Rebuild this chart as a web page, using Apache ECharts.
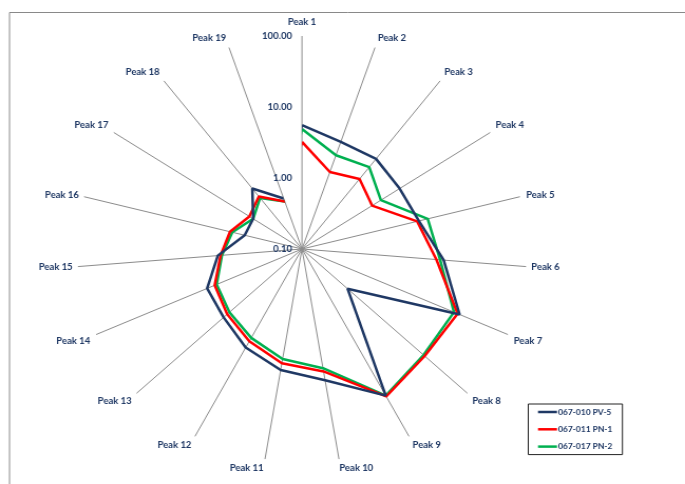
<!DOCTYPE html>
<html>
<head>
<meta charset="utf-8">
<script src="https://cdn.jsdelivr.net/npm/echarts@6/dist/echarts.min.js"></script>
<style>
html,body{margin:0;padding:0;background:#fff;overflow:hidden;width:685px;height:484px;}
#chart{width:649px;height:484px;transform:scaleX(1.0555);transform-origin:0 0;}
</style>
</head>
<body>
<div id="chart"></div>
<script>
const categories = ['Peak 1','Peak 2','Peak 3','Peak 4','Peak 5','Peak 6','Peak 7','Peak 8','Peak 9','Peak 10',
  'Peak 11','Peak 12','Peak 13','Peak 14','Peak 15','Peak 16','Peak 17','Peak 18','Peak 19'];
const seriesNames = ['067-010 PV-5','067-011 PN-1','067-017 PN-2'];
const pv5 = [5.57, 3.94, 4.06, 3.6, 4.06, 7.9, 19.8, 0.67, 22.3, 7.5, 5.35, 3.79, 2.64, 2.41, 1.34, 0.615, 0.60, 1.2, 0.565];
const pn1 = [3.23, 1.40, 1.78, 1.31, 3.85, 6.3, 18.5, 16.8, 23.0, 5.6, 4.29, 3.0, 2.27, 1.87, 1.23, 0.98, 0.69, 0.865, 0.51];
const pn2 = [4.9, 2.49, 2.89, 1.81, 5.38, 7.07, 16.4, 16.0, 22.3, 5.03, 3.72, 2.65, 2.07, 1.75, 1.18, 0.91, 0.60, 0.815, 0.51];
const radiusTicks = [0.1, 1, 10, 100];

// label padding (style only): [top, right, bottom, left]
const labelPadding = [
  [0,0,4,0],[0,0,0,1],[0,0,0,1],[0,0,0,1],[0,0,0,1],[0,0,0,0],[0,0,0,1],[0,0,0,1],[0,0,0,1],[0,0,0,31],
  [0,33,0,0],[0,1,0,0],[0,1,0,0],[0,1,0,0],[0,0,0,0],[0,0,0,0],[0,1,0,0],[0,1,0,0],[0,1,0,0]
];

const colors = ['#1F3864', '#FF0000', '#00B050'];
const textColor = '#1F3864';
const font = 'Lato, "Open Sans", sans-serif';

function closedLoop(vals) {
  const pts = vals.map((v, i) => [v, i]);
  pts.push([vals[0], 0]);
  return pts;
}

const chart = echarts.init(document.getElementById('chart'), null, {renderer: 'canvas'});
chart.setOption({
  animation: false,
  backgroundColor: '#fff',
  graphic: [{
    type: 'rect',
    shape: {x: 9, y: 12.5, width: 720, height: 520},
    style: {fill: 'none', stroke: '#898989', lineWidth: 1},
    silent: true
  }],
  polar: {center: [286.1, 249], radius: 213},
  angleAxis: {
    type: 'category',
    data: categories.map((c, i) => ({value: c, textStyle: {padding: labelPadding[i]}})),
    startAngle: 90,
    clockwise: true,
    boundaryGap: false,
    axisLine: {show: false},
    axisTick: {show: false},
    splitLine: {show: true, lineStyle: {color: '#8c8c8c', width: 1}},
    axisLabel: {show: true, margin: 5, color: textColor, fontWeight: 'bold', fontSize: 9, fontFamily: font}
  },
  radiusAxis: {
    type: 'log',
    logBase: 10,
    min: radiusTicks[0],
    max: radiusTicks[radiusTicks.length - 1],
    axisLine: {show: false},
    axisTick: {show: false},
    splitLine: {show: false},
    axisLabel: {
      show: true, margin: 9.5, color: textColor, fontWeight: 'bold', fontSize: 9, fontFamily: font,
      formatter: v => Number(v).toFixed(2)
    },
    z: 10
  },
  legend: {
    orient: 'vertical',
    left: 500.5,
    top: 404,
    data: seriesNames,
    icon: 'rect',
    itemWidth: 18,
    itemHeight: 2.5,
    itemGap: 7.3,
    padding: [3, 9.5, 3, 9.2],
    borderColor: '#222',
    borderWidth: 1,
    borderRadius: 0,
    textStyle: {color: textColor, fontWeight: 'bold', fontSize: 8, fontFamily: font, lineHeight: 10, padding: [0, 0, 0, -4]}
  },
  series: [pv5, pn1, pn2].map((vals, i) => ({
    name: seriesNames[i],
    type: 'line',
    coordinateSystem: 'polar',
    data: closedLoop(vals),
    symbol: 'none',
    lineStyle: {color: colors[i], width: 2.5},
    itemStyle: {color: colors[i]},
    z: 3 + (2 - i)
  }))
});
</script>
</body>
</html>
